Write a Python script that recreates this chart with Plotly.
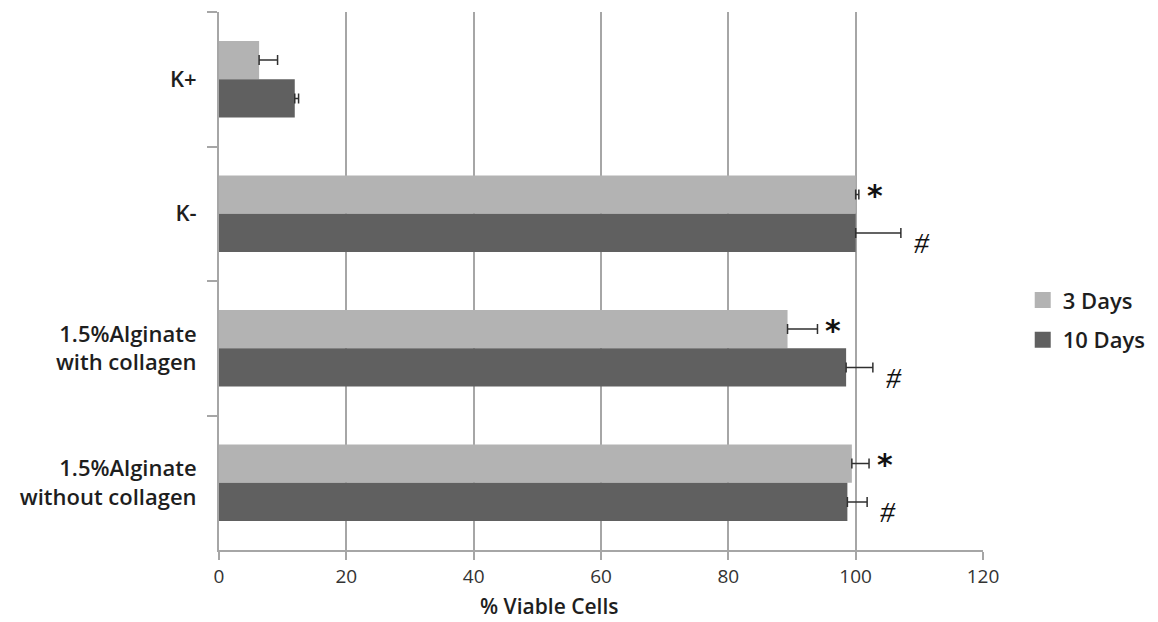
import plotly.graph_objects as go

categories = ["K+", "K-", "1.5%Alginate<br>with collagen", "1.5%Alginate<br>without collagen"]
series_names = ["3 Days", "10 Days"]
days3 = [6.3, 100.0, 89.3, 99.4]
days3_err = [2.9, 0.5, 4.7, 2.7]
days10 = [11.9, 100.0, 98.5, 98.7]
days10_err = [0.6, 7.1, 4.2, 3.1]
marks3 = ["", "*", "*", "*"]
marks10 = ["", "#", "#", "#"]
x_ticks = [0, 20, 40, 60, 80, 100, 120]
x_title = "% Viable Cells"

LIGHT = "#b3b3b3"
DARK = "#606060"
GRID = "#a6a6a6"
FONT = "Open Sans"
TXT = "#1e1e1e"

fig = go.Figure()
for name, vals, errs, col in [(series_names[0], days3, days3_err, LIGHT),
                              (series_names[1], days10, days10_err, DARK)]:
    fig.add_trace(go.Bar(
        y=categories, x=vals, name=name, orientation="h",
        marker=dict(color=col, line=dict(width=0)),
        error_x=dict(type="data", array=errs, arrayminus=[0] * len(errs), symmetric=False,
                     color="#303030", thickness=1.5, width=5),
        showlegend=False,
    ))
# legend entries with larger square swatches
for i, (name, col) in enumerate([(series_names[0], LIGHT), (series_names[1], DARK)]):
    fig.add_trace(go.Scatter(
        x=[None], y=[None], mode="markers", name=name,
        marker=dict(symbol="square", size=16, color=col),
        legendgroup=f"g{i}", showlegend=True,
    ))

annotations = []
for cat, v, e, m in zip(categories, days3, days3_err, marks3):
    if m:
        annotations.append(dict(
            x=v + e, y=cat, xref="x", yref="y", text=m, showarrow=False,
            xanchor="left", yanchor="middle", xshift=6, yshift=18,
            font=dict(family="DejaVu Sans", size=30, color="#111111", weight="bold"),
        ))
for cat, v, e, m in zip(categories, days10, days10_err, marks10):
    if m:
        annotations.append(dict(
            x=v + e, y=cat, xref="x", yref="y", text=m, showarrow=False,
            xanchor="left", yanchor="middle", xshift=11, yshift=-29,
            font=dict(family="Liberation Serif", size=30, color="#111111", style="italic"),
        ))
annotations.append(dict(
    x=0.432, y=0, xref="paper", yref="paper", yshift=-56, text=x_title, showarrow=False,
    xanchor="center", yanchor="middle", borderpad=0,
    font=dict(family=FONT, size=21, color=TXT, weight=600),
))

fig.update_layout(
    width=1150, height=614,
    margin=dict(l=211, r=175, t=4, b=72, autoexpand=False),
    paper_bgcolor="white", plot_bgcolor="white",
    barmode="group", bargap=0.43, bargroupgap=0,
    showlegend=True,
    legend=dict(
        x=1.052, y=0.427, xanchor="left", yanchor="middle",
        font=dict(family=FONT, size=22, color=TXT, weight=600),
        traceorder="grouped", tracegroupgap=8, itemwidth=30,
    ),
    annotations=annotations,
    font=dict(family=FONT),
)
fig.update_yaxes(
    autorange="reversed", automargin=False,
    tickson="boundaries", ticks="outside", ticklen=10, tickcolor=GRID, tickwidth=2,
    showline=True, linecolor=GRID, linewidth=2,
    showgrid=False, zeroline=False,
    tickfont=dict(family=FONT, size=22, color=TXT, weight=600),
    ticklabelstandoff=16,
)
fig.update_xaxes(
    range=[0, 120], tickvals=x_ticks, automargin=False,
    showgrid=True, gridcolor=GRID, gridwidth=2,
    showline=True, linecolor=GRID, linewidth=2,
    ticks="outside", ticklen=8, tickcolor=GRID, tickwidth=2,
    zeroline=False,
    tickfont=dict(family=FONT, size=19, color="#333333"),
)

fig.write_html("out.html")
